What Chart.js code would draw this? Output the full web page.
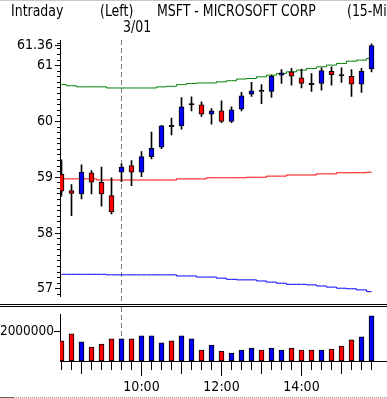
<!DOCTYPE html>
<html>
<head>
<meta charset="utf-8">
<script src="https://cdn.jsdelivr.net/npm/chart.js@4.4.0/dist/chart.umd.min.js"></script>
<style>
  html, body { margin: 0; padding: 0; background: #fff; }
  body { width: 387px; height: 398px; position: relative; overflow: hidden;
         font-family: 'DejaVu Sans Condensed', 'DejaVu Sans', sans-serif; font-size: 16px; color: #000; }
  .txt { position: absolute; white-space: nowrap; line-height: 16px; transform: scaleX(0.87); transform-origin: 0 0; }
  #price { position: absolute; left: 0; top: 0; }
  #volume { position: absolute; left: 0; top: 304px; }
  .sep { position: absolute; left: 0; top: 304px; width: 387px; height: 1px;
         border-top: 1px solid #000; border-bottom: 1px solid #000; }
  .top { position: absolute; left: 0; top: 0; width: 387px; height: 1px; background: #c8c8c8; }
  .foot { position: absolute; left: 0; top: 397px; width: 387px; height: 0; border-top: 1px dotted #a0a0a0; }
  .foot2 { position: absolute; left: 0; top: 397px; width: 14px; height: 1px; background: #606060; }
</style>
</head>
<body>
<canvas id="price" width="387" height="307"></canvas>
<canvas id="volume" width="387" height="94"></canvas>
<div class="sep"></div>
<div class="top"></div>
<div class="foot"></div>
<div class="foot2"></div>
<div class="txt" style="left:11px; top:3px;">Intraday</div>
<div class="txt" style="left:100px; top:3px;">(Left)</div>
<div class="txt" style="left:157px; top:3px;">MSFT - MICROSOFT CORP</div>
<div class="txt" style="left:347px; top:3px;">(15-Minute)</div>
<div class="txt" style="left:123px; top:19px;">3/01</div>

<script>
// 15 minute bars: last 6 of the previous day, then the 3/01 session
var times = ['14:30', '14:45', '15:00', '15:15', '15:30', '15:45',
             '9:30', '9:45', '10:00', '10:15', '10:30', '10:45', '11:00', '11:15', '11:30', '11:45',
             '12:00', '12:15', '12:30', '12:45', '13:00', '13:15', '13:30', '13:45',
             '14:00', '14:15', '14:30', '14:45', '15:00', '15:15', '15:30', '15:45'];

var opens  = [59.05, 58.76, 58.70, 59.08, 58.91, 58.67, 59.09, 59.21, 59.09, 59.37, 59.54, 59.92, 59.92, 60.31, 60.30, 60.13,
              60.19, 60.00, 60.22, 60.49, 60.55, 60.54, 60.83, 60.89, 60.78, 60.67, 60.68, 60.90, 60.83, 60.81, 60.67, 60.94];
var highs  = [59.31, 58.87, 59.22, 59.12, 59.18, 58.99, 59.24, 59.30, 59.46, 59.81, 59.93, 60.06, 60.43, 60.44, 60.35, 60.23,
              60.37, 60.26, 60.52, 60.70, 60.66, 60.83, 60.93, 60.95, 60.94, 60.86, 60.96, 60.98, 60.96, 60.93, 60.95, 61.39];
var lows   = [58.66, 58.31, 58.61, 58.70, 58.48, 58.34, 58.92, 58.85, 59.01, 59.33, 59.51, 59.76, 59.86, 60.19, 60.09, 59.95,
              59.98, 59.98, 60.19, 60.45, 60.32, 60.43, 60.68, 60.65, 60.60, 60.54, 60.56, 60.65, 60.70, 60.45, 60.52, 60.89];
var closes = [58.75, 58.71, 59.09, 58.91, 58.70, 58.38, 59.18, 59.09, 59.37, 59.52, 59.92, 59.92, 60.26, 60.31, 60.13, 60.19,
              60.00, 60.21, 60.46, 60.55, 60.55, 60.81, 60.87, 60.81, 60.68, 60.67, 60.91, 60.84, 60.83, 60.67, 60.90, 61.36];

// bands
var upper  = [60.66, 60.64, 60.62, 60.62, 60.62, 60.60, 60.60, 60.60, 60.60, 60.60, 60.62, 60.63, 60.66, 60.68, 60.69, 60.69,
              60.71, 60.73, 60.76, 60.77, 60.80, 60.83, 60.86, 60.89, 60.92, 60.95, 60.98, 61.01, 61.04, 61.08, 61.10, 61.13];
var middle = [58.97, 58.97, 58.97, 58.97, 58.95, 58.95, 58.95, 58.95, 58.95, 58.95, 58.95, 58.95, 58.97, 58.97, 58.97, 58.99,
              58.99, 58.99, 58.99, 59.00, 59.00, 59.02, 59.02, 59.04, 59.04, 59.04, 59.06, 59.06, 59.08, 59.08, 59.08, 59.09];
var lower  = [57.26, 57.26, 57.26, 57.26, 57.26, 57.25, 57.25, 57.25, 57.25, 57.25, 57.25, 57.25, 57.23, 57.23, 57.21, 57.21,
              57.19, 57.17, 57.16, 57.16, 57.14, 57.12, 57.10, 57.08, 57.08, 57.07, 57.05, 57.03, 57.01, 57.00, 56.98, 56.95];

var volumes = [1365000, 1843000, 1297000, 956000, 1160000, 1502000, 1502000, 1502000, 1706000, 1706000, 1229000, 1365000,
               1706000, 1502000, 751000, 1092000, 683000, 546000, 751000, 887000, 751000, 887000, 751000, 887000,
               751000, 751000, 751000, 819000, 1024000, 1433000, 1638000, 3072000];

var volumeTicks = [2000000];

var BLUE = '#0000ff', RED = '#ff0000', GREEN = '#008000';
var sessionStart = times.indexOf('9:30');
var lastClose = closes[closes.length - 1];
var xMin = -0.15, xMax = 32.55;

Chart.defaults.font.family = "'DejaVu Sans Condensed', 'DejaVu Sans', sans-serif";
Chart.defaults.font.size = 14;
Chart.defaults.color = '#000';
Chart.defaults.animation = false;

// dashed line where the new session starts
const sessionLine = {
    id: 'sessionLine',
    beforeDatasetsDraw(chart, args, opts) {
        const ctx = chart.ctx;
        const x = Math.floor(chart.scales.x.getPixelForValue(sessionStart)) + 0.5;
        const y0 = opts.down ? chart.chartArea.top : 3;
        const y1 = opts.down ? chart.height - 4 : chart.chartArea.bottom;
        ctx.save();
        ctx.strokeStyle = '#808080';
        ctx.lineWidth = 1;
        ctx.setLineDash([5, 3]);
        ctx.beginPath();
        ctx.moveTo(x, y0);
        ctx.lineTo(x, y1);
        ctx.stroke();
        ctx.restore();
    }
};

function isMajorPrice(v) {
    return Math.abs(v - Math.round(v)) < 1e-6 || Math.abs(v - lastClose) < 1e-6;
}

function bandLine(label, values, color) {
    return {
        type: 'line',
        label: label,
        data: values.map((v, i) => ({x: i, y: v})),
        borderColor: color,
        borderWidth: 1,
        pointRadius: 0,
        stepped: 'middle',
        order: 3
    };
}

new Chart(document.getElementById('price'), {
    type: 'bar',
    data: {
        datasets: [
            {
                label: 'body',
                data: opens.map((o, i) => ({x: i, y: o === closes[i] ? [o - 0.012, o + 0.012] : [o, closes[i]]})),
                backgroundColor: opens.map((o, i) => closes[i] > o ? BLUE : (closes[i] < o ? RED : '#000')),
                borderColor: '#000',
                borderWidth: 1,
                borderSkipped: false,
                barThickness: 5,
                grouped: false,
                order: 1
            },
            {
                label: 'wick',
                data: lows.map((l, i) => ({x: i, y: [l, highs[i]]})),
                backgroundColor: '#000',
                borderWidth: 0,
                barThickness: 1,
                grouped: false,
                order: 2
            },
            bandLine('upper', upper, GREEN),
            bandLine('middle', middle, RED),
            bandLine('lower', lower, BLUE)
        ]
    },
    options: {
        responsive: false,
        layout: { padding: { top: 40, bottom: 10, left: 0, right: 0 } },
        plugins: {
            legend: { display: false },
            tooltip: { enabled: false },
            sessionLine: { down: true }
        },
        scales: {
            x: { type: 'linear', display: false, min: xMin, max: xMax, offset: false, grid: { offset: false } },
            y: {
                min: 56.86,
                max: 61.46,
                afterFit: function(scale) { scale.width = 60; },
                afterBuildTicks: function(scale) {
                    const t = [];
                    for (let k = 569; k <= 614; k++) t.push({value: k / 10});
                    t.push({value: lastClose});
                    scale.ticks = t;
                },
                border: { color: '#000', width: 1 },
                grid: {
                    drawOnChartArea: false,
                    tickLength: 5,
                    tickColor: '#000',
                    tickBorderDash: function(ctx) { return isMajorPrice(ctx.tick.value) ? [] : [0, 2, 3, 100]; }
                },
                ticks: {
                    autoSkip: false,
                    padding: 2,
                    callback: function(value) {
                        if (Math.abs(value - lastClose) < 1e-6) return lastClose.toFixed(2);
                        if (Math.abs(value - Math.round(value)) < 1e-6) return String(Math.round(value));
                        return '';
                    }
                }
            }
        }
    },
    plugins: [sessionLine]
});

new Chart(document.getElementById('volume'), {
    type: 'bar',
    data: {
        datasets: [{
            label: 'volume',
            data: volumes.map((v, i) => ({x: i, y: v})),
            backgroundColor: closes.map((c, i) => i > 0 && c > closes[i - 1] ? BLUE : RED),
            borderColor: '#000',
            borderWidth: 1,
            borderSkipped: false,
            barThickness: 5
        }]
    },
    options: {
        responsive: false,
        layout: { padding: { top: 10, bottom: 0, left: 0, right: 0 } },
        plugins: {
            legend: { display: false },
            tooltip: { enabled: false },
            sessionLine: { down: false }
        },
        scales: {
            x: {
                type: 'linear',
                min: xMin,
                max: xMax,
                offset: false,
                afterFit: function(scale) { scale.height = 37; },
                afterBuildTicks: function(scale) { scale.ticks = times.map((t, i) => ({value: i})); },
                border: { color: '#000', width: 1 },
                grid: {
                    offset: false,
                    drawOnChartArea: false,
                    tickLength: 15,
                    tickColor: '#000',
                    tickBorderDash: function(ctx) {
                        const t = times[ctx.index] || '';
                        if (!t.endsWith(':00')) return [8, 100];
                        return parseInt(t) % 2 === 0 ? [] : [12, 100];
                    }
                },
                ticks: {
                    autoSkip: false,
                    maxRotation: 0,
                    padding: 3,
                    callback: function(value, index) {
                        const t = times[index];
                        return t.endsWith(':00') && parseInt(t) % 2 === 0 ? t : '';
                    }
                }
            },
            y: {
                min: 0,
                max: 3200000,
                afterFit: function(scale) { scale.width = 60; },
                afterBuildTicks: function(scale) { scale.ticks = volumeTicks.map(v => ({value: v})); },
                border: { color: '#000', width: 1 },
                grid: { drawOnChartArea: false, tickLength: 6, tickColor: '#000' },
                ticks: {
                    padding: 0,
                    font: { size: 13.5 },
                    callback: function(value) { return String(value); }
                }
            }
        }
    },
    plugins: [sessionLine]
});
</script>
</body>
</html>
